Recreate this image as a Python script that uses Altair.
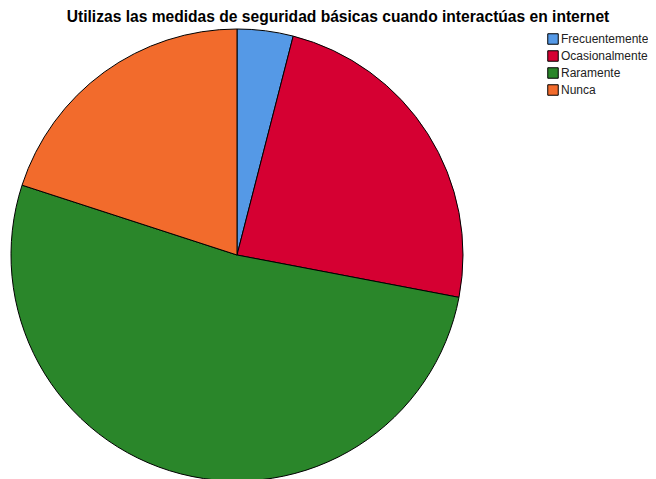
import altair as alt
import pandas as pd

categories = ["Frecuentemente", "Ocasionalmente", "Raramente", "Nunca"]
counts = [1, 6, 13, 5]
colors = ["#5599E6", "#D50032", "#2A862A", "#F26B2C"]
title_text = "Utilizas las medidas de seguridad básicas cuando interactúas en internet"

df = pd.DataFrame({"cat": categories, "n": counts, "idx": list(range(len(categories)))})

pie = alt.Chart(df).mark_arc(
    outerRadius=226, stroke="black", strokeWidth=1
).encode(
    theta=alt.Theta("n:Q", stack=True),
    order=alt.Order("idx:Q"),
    color=alt.Color(
        "cat:N",
        sort=categories,
        scale=alt.Scale(domain=categories, range=colors),
        legend=alt.Legend(
            title=None, orient="none", legendX=539, legendY=25,
            symbolType="square", symbolSize=110, symbolStrokeColor="black",
            symbolStrokeWidth=1, symbolOpacity=1, labelFontSize=12,
            labelFont="Liberation Sans", labelColor="#222222", labelOffset=2,
            rowPadding=1, padding=0, labelLimit=200,
        ),
    ),
    x=alt.value(229),
    y=alt.value(247),
)

title = alt.Chart(pd.DataFrame({"t": [title_text]})).mark_text(
    font="Liberation Sans", fontSize=15.6, fontWeight="bold", color="black",
    align="center", baseline="alphabetic"
).encode(text="t:N", x=alt.value(330), y=alt.value(14))

chart = alt.layer(pie, title).properties(
    width=640, height=471, autosize=alt.AutoSizeParams(type="none"), padding=0
).configure_view(stroke=None)

chart.save("out.html", embed_options={"renderer": "svg", "actions": False})
